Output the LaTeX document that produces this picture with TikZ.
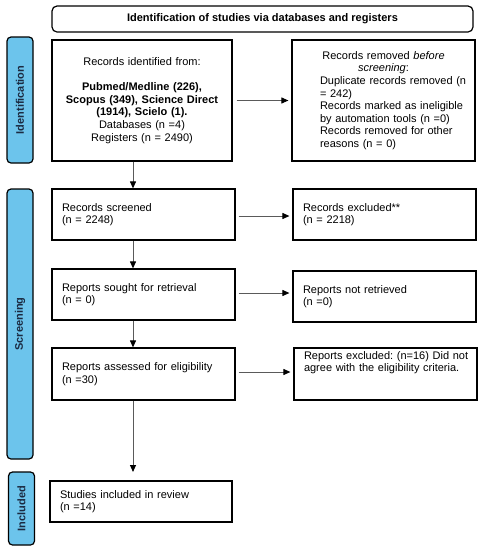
\documentclass[tikz,border=0pt]{standalone}
\usepackage{fontspec}
\setmainfont{Liberation Sans}
\usetikzlibrary{arrows.meta}
\definecolor{barblue}{HTML}{6CC4EC}
\definecolor{barnavy}{HTML}{1B2A41}
\definecolor{arrgray}{HTML}{5A5A5A}
\newcommand{\oneline}[1]{\mbox{#1}}
\frenchspacing
\begin{document}
\begin{tikzpicture}[x=1pt,y=-1pt,
  every node/.style={font=\fontsize{11}{12.6}\selectfont, inner ysep=0pt},
  box/.style={draw=black, line width=1.2pt, rectangle, inner xsep=10pt},
  hdr/.style={draw=black, line width=1.2pt, rounded corners=5pt, font=\fontsize{11}{12.6}\selectfont\bfseries},
  sidebar/.style={draw=black, line width=1.2pt, fill=barblue, rounded corners=4pt, rotate=90, minimum height=26pt, text=barnavy, font=\fontsize{11}{12.6}\selectfont\bfseries},
  arr/.style={draw=arrgray, line width=1pt, -{Triangle[length=7pt,width=6pt,color=black]}}
]
\useasboundingbox (0,0) rectangle (482,550);
\fill[white] (0,0) rectangle (482,550);

\node[hdr, minimum width=421pt, minimum height=26pt] (header) at (262.5,19) {Identification of studies via databases and registers};

\node[sidebar, minimum width=126pt] (idbar) at (20,100) {Identification};
\node[sidebar, minimum width=270pt] (scbar) at (20,324) {Screening};
\node[sidebar, minimum width=73pt] (inbar) at (21.5,508.5) {Included};

\node[box, text width=160pt, minimum height=121pt, align=center] (box1) at (142,100.5)
  {Records identified from:\\[12.6pt]
   \textbf{Pubmed/Medline (226),}\\
   \textbf{Scopus (349), Science Direct}\\
   \textbf{(1914), Scielo (1).}\\
   Databases (n =4)\\
   Registers (n = 2490)};

\node[box, text width=163pt, minimum height=121pt, align=left] (removed) at (383.5,100.5)
  {\makebox[163pt][c]{Records removed \textit{before}}\\
   \makebox[163pt][c]{\textit{screening}:}\\
   \hspace*{18pt}\oneline{Duplicate records removed (n}\\
   \hspace*{18pt}\oneline{= 242)}\\
   \hspace*{18pt}\oneline{Records marked as ineligible}\\
   \hspace*{18pt}\oneline{by automation tools (n =0)}\\
   \hspace*{18pt}\oneline{Records removed for other}\\
   \hspace*{18pt}\oneline{reasons (n = 0)}};

\node[box, text width=163pt, minimum height=51pt, align=left] (screened) at (143.5,214.5)
  {Records screened\\(n = 2248)};
\node[box, text width=163pt, minimum height=51pt, align=left] (excluded) at (384.5,214.5)
  {Records excluded**\\(n = 2218)};

\node[box, text width=163pt, minimum height=51pt, align=left] (sought) at (143.5,294.5)
  {Reports sought for retrieval\\(n = 0)};
\node[box, text width=163pt, minimum height=51pt, align=left] (notret) at (384.5,296.5)
  {Reports not retrieved\\(n =0)};

\node[box, text width=163pt, minimum height=52pt, align=left] (assessed) at (143.5,374)
  {Reports assessed for eligibility\\(n =30)};
\node[box, text width=163pt, minimum height=52pt, align=left] (repexcl) at (385.5,374)
  {\oneline{Reports excluded: (n=16) Did not}\\\oneline{agree with the eligibility criteria.}\\[12.6pt]\mbox{}};

\node[box, text width=162pt, minimum height=41pt, align=left, inner xsep=10pt] (studies) at (141,501.5)
  {Studies included in review\\(n =14)};

\coordinate (ax) at (133,0);
\coordinate (endin) at (133,472);

\draw[arr] (box1.south -| ax) -- (screened.north -| ax);
\draw[arr] (screened.south -| ax) -- (sought.north -| ax);
\draw[arr] (sought.south -| ax) -- (assessed.north -| ax);
\draw[arr] (assessed.south -| ax) -- (endin);

\draw[arr, shorten <=4pt, shorten >=3pt] (box1.east) -- (box1.east -| removed.west);
\draw[arr, shorten <=3pt, shorten >=3pt] ([yshift=-1.5pt]screened.east) -- ([yshift=-1.5pt]screened.east -| excluded.west);
\draw[arr, shorten <=3pt, shorten >=3pt] ([yshift=1.5pt]sought.east) -- ([yshift=1.5pt]sought.east -| notret.west);
\draw[arr, shorten <=3pt, shorten >=3pt] ([yshift=2pt]assessed.east) -- ([yshift=2pt]assessed.east -| repexcl.west);
\end{tikzpicture}
\end{document}
